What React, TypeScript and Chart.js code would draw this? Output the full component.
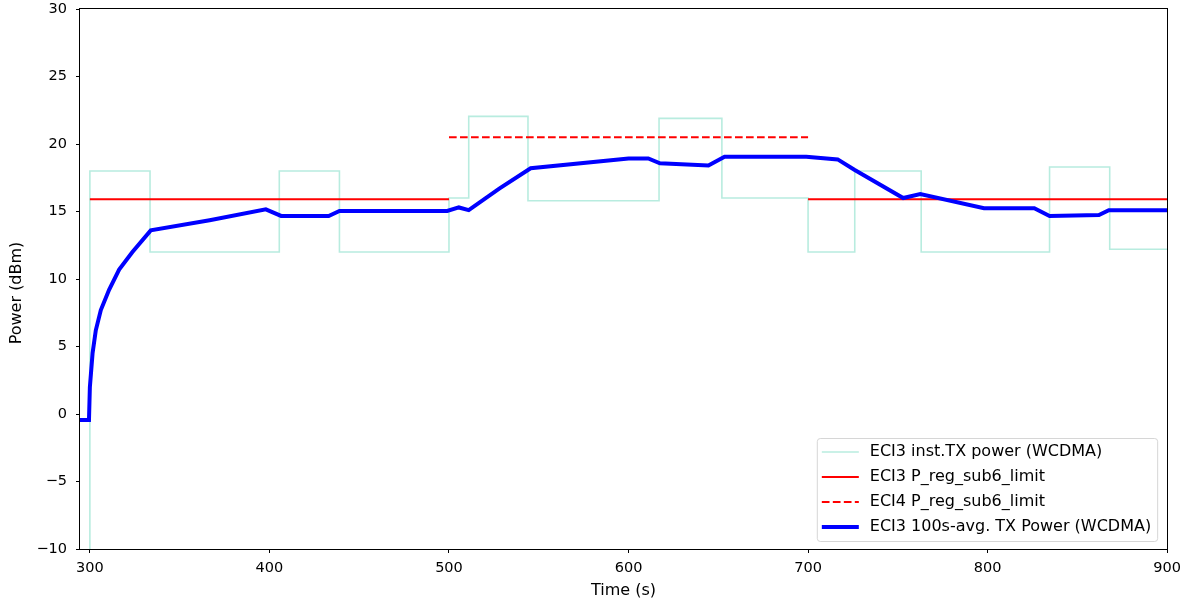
import React, { useEffect, useRef } from "react";
import { Chart, registerables } from "chart.js";

Chart.register(...registerables);

// Instantaneous TX power (step function, value holds until next time)
const instTime = [294, 300, 333.5, 405.5, 439, 500, 511, 544, 617, 652, 700, 726, 763, 834.5, 868, 900];
const instPower = [-15, 18, 12, 18, 12, 16, 22.05, 15.8, 21.9, 16, 12, 18, 12, 18.3, 12.2, 12.2];

// ECI3 regulatory limit (two segments)
const eci3LimitTime = [300, 500, 600, 700, 900];
const eci3LimitPower = [15.9, 15.9, null, 15.9, 15.9];

// ECI4 regulatory limit
const eci4LimitTime = [500, 700];
const eci4LimitPower = [20.5, 20.5];

// 100 s average TX power
const avgTime = [294.5, 299.5, 300, 301.5, 303.3, 306.1, 310.7, 316.3, 323.7, 333.9, 366.7, 398, 406.5, 433, 439, 499, 505.5, 511, 528, 545.5, 600, 611, 617.5, 644.5, 653.5, 699, 716.5, 726, 753, 762.5, 798, 826, 834.5, 862, 867.5, 900];
const avgPower = [-0.45, -0.45, 2.0, 4.5, 6.2, 7.7, 9.2, 10.7, 12.0, 13.6, 14.35, 15.16, 14.67, 14.67, 15.04, 15.04, 15.3, 15.1, 16.7, 18.2, 18.93, 18.93, 18.57, 18.4, 19.06, 19.06, 18.86, 18.07, 16.0, 16.3, 15.24, 15.24, 14.67, 14.74, 15.1, 15.1];

const xTicks = [300, 400, 500, 600, 700, 800, 900];
const yTicks = [-10, -5, 0, 5, 10, 15, 20, 25, 30];

const labels = [
  "ECI3 inst.TX power (WCDMA)",
  "ECI3 P_reg_sub6_limit",
  "ECI4 P_reg_sub6_limit",
  "ECI3 100s-avg. TX Power (WCDMA)",
];
const yTitle = "Power (dBm)";
const xTitle = "Time (s)";

const FONT = '"DejaVu Sans", "Liberation Sans", sans-serif';

const toPts = (xs: number[], ys: (number | null)[]) => xs.map((x, i) => ({ x, y: ys[i] }));

const frameAndLegend = {
  id: "frameAndLegend",
  afterDraw(chart: any) {
    const { ctx, chartArea } = chart;
    ctx.save();
    // axes frame
    ctx.strokeStyle = "#000";
    ctx.lineWidth = 1;
    ctx.strokeRect(
      Math.round(chartArea.left) - 0.5,
      Math.round(chartArea.top) - 0.5,
      Math.round(chartArea.right - chartArea.left) + 1,
      Math.round(chartArea.bottom - chartArea.top) + 1
    );
    // y axis title
    ctx.save();
    ctx.font = `16px ${FONT}`;
    ctx.fillStyle = "#000";
    ctx.textAlign = "center";
    ctx.textBaseline = "middle";
    ctx.translate(17, (chartArea.top + chartArea.bottom) / 2 + 14);
    ctx.rotate(-Math.PI / 2);
    ctx.fillText(yTitle, 0, 0);
    ctx.restore();
    // legend
    ctx.font = `16px ${FONT}`;
    const ds = chart.data.datasets;
    const textW = Math.max(...ds.map((d: any) => ctx.measureText(d.label).width));
    const padL = 5, handle = 37, gap = 11, padR = 6, rowH = 25;
    const w = padL + handle + gap + textW + padR;
    const h = rowH * ds.length + 3;
    const right = chartArea.right - 10;
    const bottom = chartArea.bottom - 8;
    const x0 = right - w;
    const y0 = bottom - h;
    ctx.beginPath();
    if (ctx.roundRect) ctx.roundRect(x0 + 0.5, y0 + 0.5, w, h, 3);
    else ctx.rect(x0 + 0.5, y0 + 0.5, w, h);
    ctx.fillStyle = "rgba(255,255,255,0.8)";
    ctx.fill();
    ctx.strokeStyle = "rgba(204,204,204,0.8)";
    ctx.lineWidth = 1;
    ctx.stroke();
    ds.forEach((d: any, i: number) => {
      const cy = y0 + 14 + i * rowH;
      ctx.beginPath();
      ctx.setLineDash(d.borderDash || []);
      ctx.strokeStyle = d.borderColor;
      ctx.lineWidth = d.borderWidth;
      ctx.moveTo(x0 + padL, cy);
      ctx.lineTo(x0 + padL + handle, cy);
      ctx.stroke();
      ctx.setLineDash([]);
      ctx.fillStyle = "#000";
      ctx.textBaseline = "middle";
      ctx.textAlign = "left";
      ctx.fillText(d.label, x0 + padL + handle + gap, cy);
    });
    ctx.restore();
  },
};

export default function App() {
  const ref = useRef<HTMLCanvasElement | null>(null);

  useEffect(() => {
    if (!ref.current) return;
    const tickFont = { family: FONT, size: 14.5 };
    const titleFont = { family: FONT, size: 16 };
    const chart = new Chart(ref.current, {
      type: "line",
      data: {
        datasets: [
          {
            label: labels[0],
            data: toPts(instTime, instPower),
            borderColor: "#b8ecdf",
            borderWidth: 1.6,
            stepped: "before",
            pointRadius: 0,
            order: 3,
          },
          {
            label: labels[1],
            data: toPts(eci3LimitTime, eci3LimitPower),
            borderColor: "#ff0000",
            borderWidth: 2,
            pointRadius: 0,
            spanGaps: false,
            order: 2,
          },
          {
            label: labels[2],
            data: toPts(eci4LimitTime, eci4LimitPower),
            borderColor: "#ff0000",
            borderWidth: 2,
            borderDash: [7.7, 3.3],
            pointRadius: 0,
            order: 1,
          },
          {
            label: labels[3],
            data: toPts(avgTime, avgPower),
            borderColor: "#0000ff",
            borderWidth: 4,
            pointRadius: 0,
            order: 0,
          },
        ] as any,
      },
      options: {
        responsive: false,
        animation: false,
        layout: { padding: { top: 9, right: 20, left: 0, bottom: 0 } },
        plugins: {
          legend: { display: false },
          tooltip: { enabled: false },
          title: { display: false },
        },
        elements: { point: { radius: 0 }, line: { tension: 0 } },
        scales: {
          x: {
            type: "linear",
            min: 294.5,
            max: 900,
            afterBuildTicks: (s: any) => {
              s.ticks = xTicks.map((v) => ({ value: v }));
            },
            afterFit: (s: any) => {
              s.height = 53;
            },
            grid: {
              display: true,
              drawOnChartArea: false,
              drawTicks: true,
              tickLength: 4,
              tickColor: "#000",
              tickWidth: 1,
            },
            border: { display: false },
            ticks: {
              color: "#000",
              font: tickFont,
              padding: 7,
              maxRotation: 0,
              autoSkip: false,
            },
            title: {
              display: true,
              text: xTitle,
              color: "#000",
              font: titleFont,
              padding: { top: 0, bottom: 1.4 },
            },
          },
          y: {
            type: "linear",
            min: -10,
            max: 30,
            afterBuildTicks: (s: any) => {
              s.ticks = yTicks.map((v) => ({ value: v }));
            },
            afterFit: (s: any) => {
              s.width = 80;
              s.paddingTop = 0;
            },
            grid: {
              display: true,
              drawOnChartArea: false,
              drawTicks: true,
              tickLength: 4,
              tickColor: "#000",
              tickWidth: 1,
            },
            border: { display: false },
            ticks: {
              color: "#000",
              font: tickFont,
              padding: 9,
              autoSkip: false,
              callback: (v: any) => (v < 0 ? "\u2212" + Math.abs(v) : String(v)),
            },
            title: { display: false },
          },
        },
      } as any,
      plugins: [frameAndLegend],
    });
    return () => chart.destroy();
  }, []);

  return (
    <div style={{ position: "fixed", left: 0, top: 0, width: 1188, height: 602, background: "#fff" }}>
      <canvas ref={ref} width={1188} height={602} style={{ display: "block" }} />
    </div>
  );
}
